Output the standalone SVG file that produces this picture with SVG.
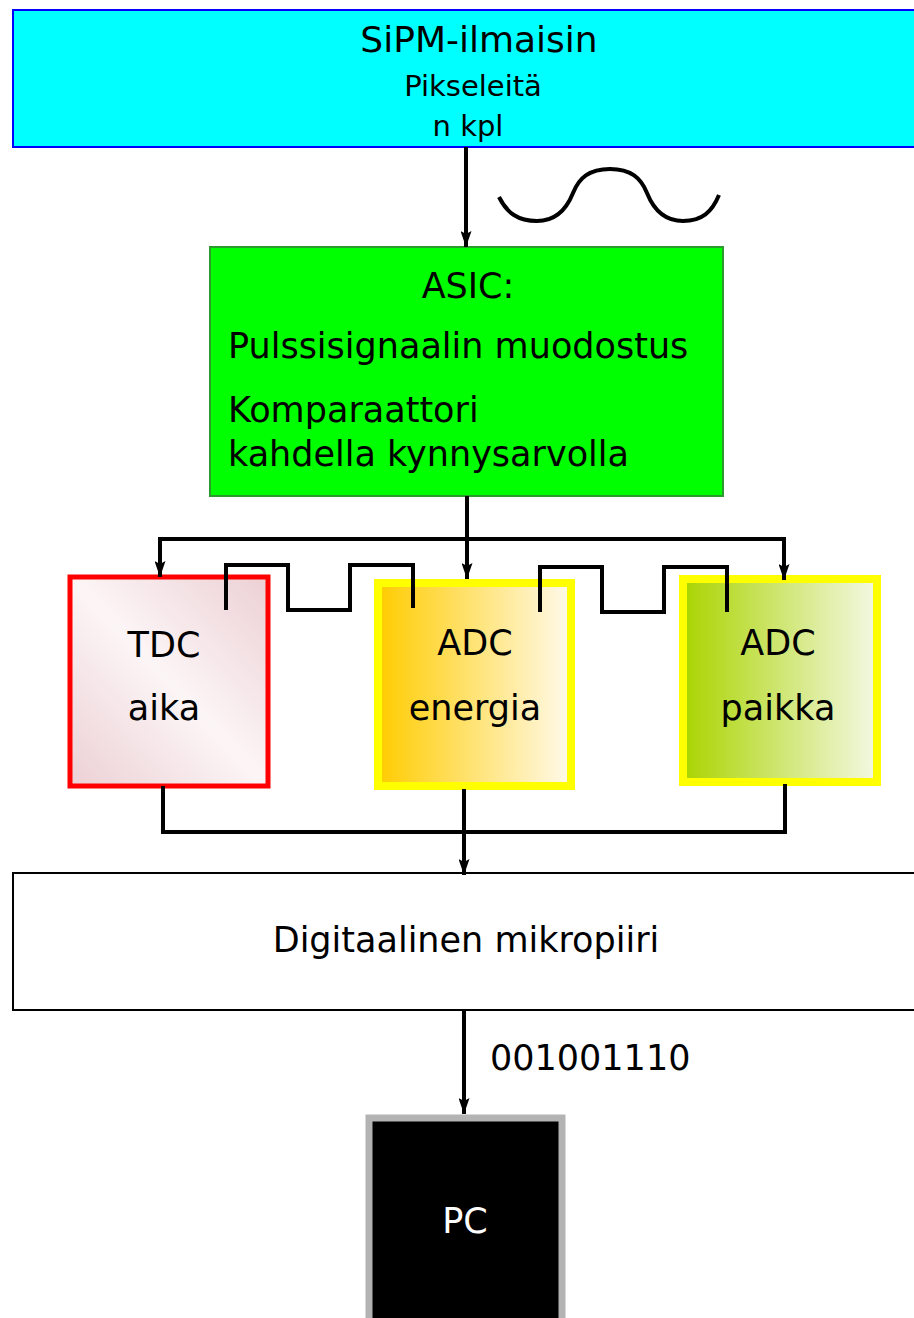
<svg xmlns="http://www.w3.org/2000/svg" width="914" height="1318" viewBox="0 0 914 1318">
<style>
text{font-family:"DejaVu Sans","Verdana",sans-serif;fill:#000}
.c{text-anchor:middle}
.w{fill:none;stroke:#000;stroke-width:4}
.sig{fill:none;stroke:#000;stroke-width:4}
</style>
<defs>
<marker id="ah" viewBox="0 0 16 11" markerWidth="16" markerHeight="11" refX="16" refY="5.5" orient="auto" markerUnits="userSpaceOnUse">
<path d="M0,0 L16,5.5 L0,11 L3,5.5 z" fill="#000"/>
</marker>
<linearGradient id="gTdc" x1="0" y1="1" x2="1" y2="0">
<stop offset="0" stop-color="#ecd0d4"/>
<stop offset="0.5" stop-color="#fcf5f6"/>
<stop offset="1" stop-color="#ecd0d4"/>
</linearGradient>
<linearGradient id="gEn" x1="0" y1="0" x2="1" y2="0">
<stop offset="0" stop-color="#ffcc00"/>
<stop offset="1" stop-color="#fffaec"/>
</linearGradient>
<linearGradient id="gPa" x1="0" y1="0" x2="1" y2="0">
<stop offset="0" stop-color="#aad400"/>
<stop offset="1" stop-color="#f4f8e4"/>
</linearGradient>
</defs>

<g id="sipm">
<rect x="13" y="10" width="910" height="137" fill="#00ffff" stroke="#0000ff" stroke-width="2"/>
<text class="c" x="479" y="52" font-size="36">SiPM-ilmaisin</text>
<text class="c" x="473" y="96" font-size="29">Pikseleitä</text>
<text class="c" x="468" y="136" font-size="29">n kpl</text>
</g>

<g id="signal">
<path class="sig" d="M499,197 C507,213 518,221 537,221 C556,221 567,208 573,193 C579,178 589,169 610,169 C631,169 641,178 647,193 C653,208 664,221 683,221 C702,221 712,212 719,195"/>
</g>

<g id="asic">
<rect x="210" y="247" width="513" height="249" fill="#00ff00" stroke="#2d9a2d" stroke-width="2"/>
<text class="c" x="468" y="298" font-size="35">ASIC:</text>
<text x="228" y="358" font-size="35">Pulssisignaalin muodostus</text>
<text x="228" y="422" font-size="35">Komparaattori</text>
<text x="228" y="466" font-size="35">kahdella kynnysarvolla</text>
</g>

<g id="tdc">
<rect x="70" y="577" width="198" height="209" fill="url(#gTdc)" stroke="#ff0000" stroke-width="5"/>
<text class="c" x="164" y="657" font-size="35">TDC</text>
<text class="c" x="164" y="720" font-size="35">aika</text>
</g>

<g id="adc-energia">
<rect x="378" y="583" width="193" height="203" fill="url(#gEn)" stroke="#ffff00" stroke-width="8"/>
<text class="c" x="475" y="655" font-size="35">ADC</text>
<text class="c" x="475" y="720" font-size="35">energia</text>
</g>

<g id="adc-paikka">
<rect x="683" y="579" width="194" height="203" fill="url(#gPa)" stroke="#ffff00" stroke-width="8"/>
<text class="c" x="778" y="655" font-size="35">ADC</text>
<text class="c" x="778" y="720" font-size="35">paikka</text>
</g>

<g id="digital">
<rect x="13" y="873" width="910" height="137" fill="#ffffff" stroke="#000" stroke-width="2"/>
<text class="c" x="466" y="952" font-size="35">Digitaalinen mikropiiri</text>
</g>

<g id="pc">
<rect x="369" y="1118" width="193" height="210" fill="#000" stroke="#b3b3b3" stroke-width="7"/>
<text class="c" x="465" y="1233" font-size="35" style="fill:#fff">PC</text>
</g>

<g id="pulses">
<path class="sig" d="M226,610 V565 H288 V610 H350 V565 H413 V608"/>
<path class="sig" d="M540,612 V567 H602 V612 H664 V567 H727 V612"/>
</g>

<g id="connectors">
<path class="w" d="M466,147 V247" marker-end="url(#ah)"/>
<path class="w" d="M467,496 V579" marker-end="url(#ah)"/>
<path class="w" d="M158,539 H786"/>
<path class="w" d="M160,539 V577" marker-end="url(#ah)"/>
<path class="w" d="M784,539 V580" marker-end="url(#ah)"/>
<path class="w" d="M163,786 V832 H785 V784"/>
<path class="w" d="M464,789 V875" marker-end="url(#ah)"/>
<path class="w" d="M464,1010 V1114" marker-end="url(#ah)"/>
<text x="490" y="1070" font-size="35">001001110</text>
</g>
</svg>
